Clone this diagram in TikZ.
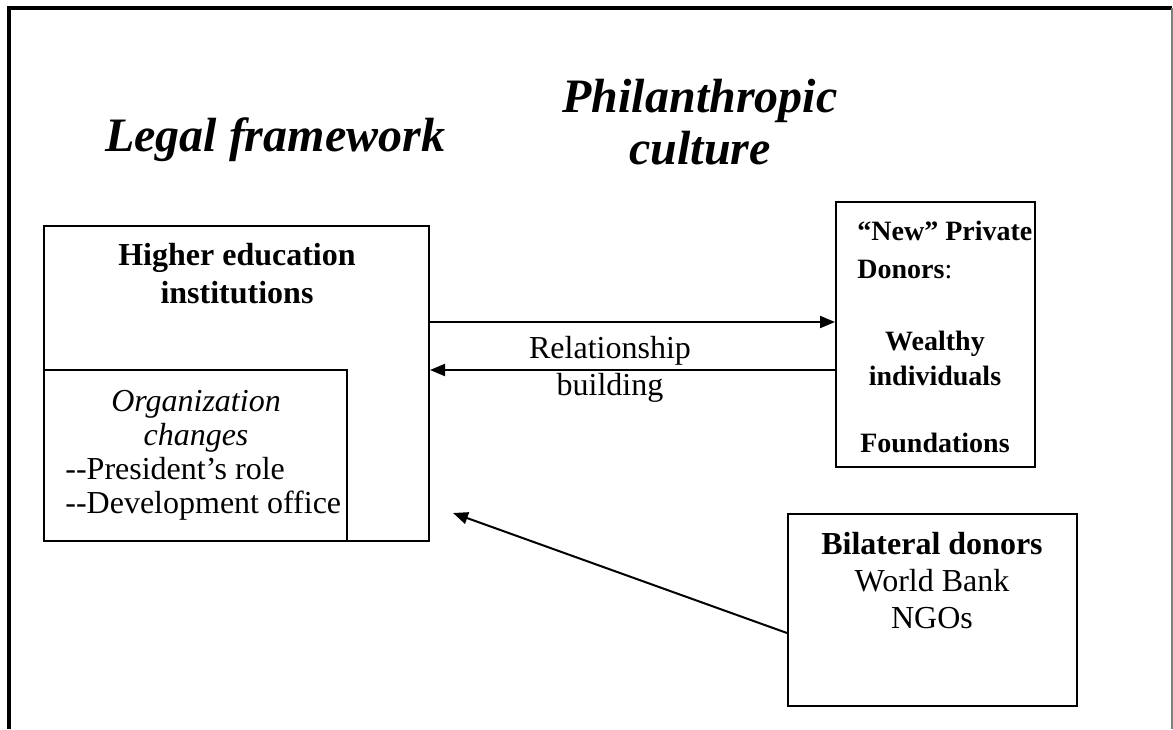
\documentclass[tikz,border=0pt]{standalone}
\usepackage{fontspec}
\setmainfont{Liberation Serif}
\usetikzlibrary{calc, positioning, arrows.meta}

\begin{document}
\begin{tikzpicture}[x=0.5pt, y=-0.5pt,
  box/.style={draw, line width=1pt, inner sep=0pt},
  txt/.style={inner sep=0pt, align=center, font=\fontsize{16}{18.5}\selectfont},
  title/.style={inner sep=0pt, align=center, font=\fontsize{24}{26}\selectfont\bfseries\itshape},
  link/.style={line width=1pt, -{Triangle[length=7.5pt, width=6pt]}}]
\useasboundingbox (0,0) rectangle (1173,729);
\draw [line width=1.8pt] (9,729) -- (9,8) -- (1172,8);
\draw [gray, line width=0.6pt] (1172,8) -- (1172,729);

\node[title, anchor=base] (legal) at (275,151) {Legal framework};
\node[title, anchor=base] (phil) at (700,164) {Philanthropic\\culture};

\node[box, minimum width=192.5pt, minimum height=157.5pt] (hei) at (236.5,383.5) {};
\node[box, minimum width=151.5pt, minimum height=85.5pt, anchor=south west] (org) at (hei.south west) {};
\node[box, minimum width=99.5pt, minimum height=132.5pt] (donors) at (935.5,334.5) {};
\node[box, minimum width=144.5pt, minimum height=96pt] (bilat) at (932.5,610) {};

\node[txt, font=\fontsize{16}{19}\selectfont\bfseries, anchor=base] (heitext) at (237,303) {Higher education\\institutions};
\node[txt, font=\fontsize{16}{17}\selectfont\itshape, anchor=base] (orgtitle) at (196,445) {Organization\\changes};
\node[txt, align=left, font=\fontsize{16}{17}\selectfont, anchor=base west] (orglist) at (65,513) {-{}-President’s role\\-{}-Development office};

\node[txt, align=left, font=\fontsize{14}{19}\selectfont, anchor=base west] (donorshead) at (857,278) {\textbf{“New” Private}\\\textbf{Donors}:};
\node[txt, font=\fontsize{14}{17.5}\selectfont\bfseries, anchor=base] (wealthy) at (935,385) {Wealthy\\individuals};
\node[txt, font=\fontsize{14}{17.5}\selectfont\bfseries, anchor=base] (found) at (935,452) {Foundations};

\node[txt, anchor=base] (bilattext) at (932,628) {\textbf{Bilateral donors}\\World Bank\\NGOs};

\node[txt, anchor=base] (rel) at (610,395) {Relationship\\building};

\coordinate (aim) at (453,513);
\draw [link] (hei.east |- 0,322) -- (donors.west |- 0,322);
\draw [link] (donors.west |- 0,370) -- (hei.east |- 0,370);
\draw [link] (bilat.west |- 0,633) -- (aim);
\end{tikzpicture}
\end{document}
